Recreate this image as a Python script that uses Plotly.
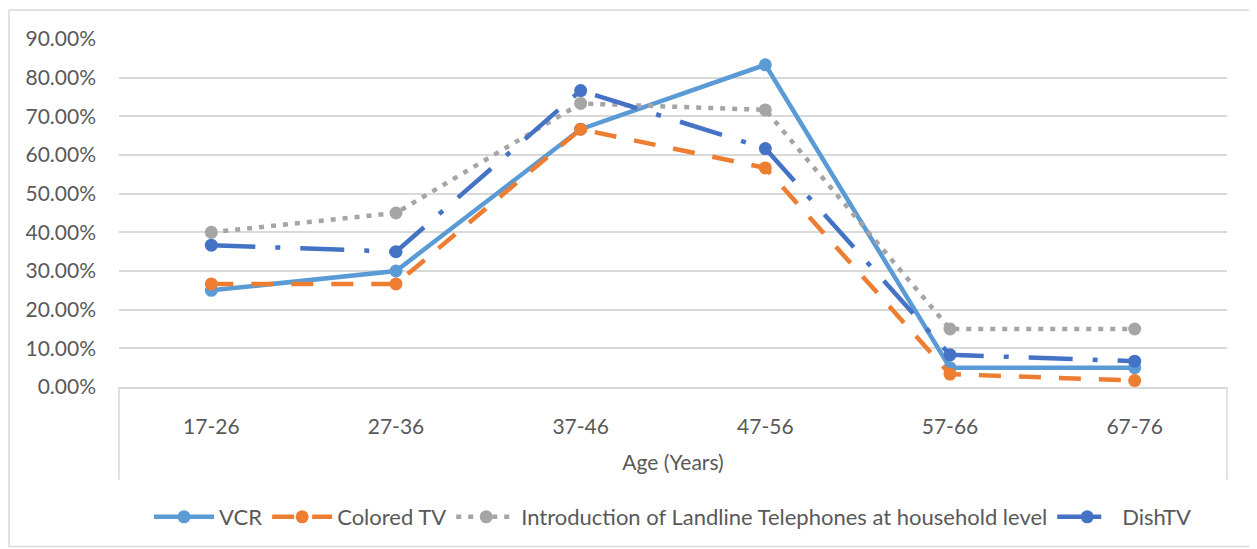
import plotly.graph_objects as go

categories = ["17-26", "27-36", "37-46", "47-56", "57-66", "67-76"]
vcr = [0.25, 0.30, 0.6667, 0.8333, 0.05, 0.05]
colored_tv = [0.2667, 0.2667, 0.6667, 0.5667, 0.0333, 0.0167]
landline = [0.40, 0.45, 0.7333, 0.7167, 0.15, 0.15]
dishtv = [0.3667, 0.35, 0.7667, 0.6167, 0.0833, 0.0667]

series = [
    ("VCR", vcr, "#5B9BD5", "solid"),
    ("Colored TV", colored_tv, "#ED7D31", "22px,18px"),
    ("Introduction of Landline Telephones at household level", landline, "#A5A5A5", "5px,7px"),
    ("DishTV", dishtv, "#4472C4", "44px,20px,5px,20px"),
]

FONT = "Lato"
TXT = "#595959"

fig = go.Figure()
for name, vals, color, dash in series:
    fig.add_trace(go.Scatter(
        x=categories, y=vals, name=name, mode="lines+markers",
        line=dict(color=color, width=4.5, dash=dash),
        marker=dict(symbol="circle", size=13, color=color),
    ))

# page has an 8px body margin; figure coordinates are offset by it
OFF = 8
W, H = 1257 - OFF, 549 - OFF
L, T = 119 - OFF, 39 - OFF
R = W - (1227 - OFF)
B = H - (388 - OFF)
pw, ph = W - L - R, H - T - B

def px_x(x):
    return (x - OFF - L) / pw

def px_y(y):
    return (H - B - (y - OFF)) / ph

grid = "#D9D9D9"
shapes = [
    dict(type="line", xref="paper", yref="paper", x0=0, x1=0, y0=0, y1=px_y(481),
         line=dict(color=grid, width=1.5)),
    dict(type="line", xref="paper", yref="paper", x0=1, x1=1, y0=0, y1=px_y(481),
         line=dict(color=grid, width=1.5)),
    dict(type="rect", xref="paper", yref="paper", x0=px_x(9), x1=px_x(1250),
         y0=px_y(548), y1=px_y(10), line=dict(color=grid, width=1.5), layer="below"),
]

fig.update_layout(
    width=W, height=H,
    margin=dict(l=L, r=R, t=T, b=B),
    paper_bgcolor="white", plot_bgcolor="white",
    font=dict(family=FONT, size=21, color=TXT),
    shapes=shapes,
    showlegend=True,
    legend=dict(orientation="h", x=0.5, xanchor="center", y=px_y(517), yanchor="middle",
                font=dict(family=FONT, size=22, color=TXT), itemwidth=60,
                bgcolor="rgba(0,0,0,0)"),
    xaxis=dict(
        type="category", showgrid=False, zeroline=False,
        showline=True, linecolor=grid, linewidth=1.5,
        ticks="", ticklabelstandoff=20,
        tickfont=dict(family=FONT, size=21, color=TXT),
        title=dict(text="Age (Years)", font=dict(family=FONT, size=21, color=TXT), standoff=18),
        range=[-0.5, 5.5], fixedrange=True,
    ),
    yaxis=dict(
        range=[0, 0.9], dtick=0.1, tick0=0, tickformat=".2%",
        showgrid=True, gridcolor=grid, gridwidth=1.5,
        zeroline=False, showline=False, ticks="", ticklabelstandoff=22,
        tickfont=dict(family=FONT, size=21, color=TXT),
    ),
)

fig.write_html("out.html")
